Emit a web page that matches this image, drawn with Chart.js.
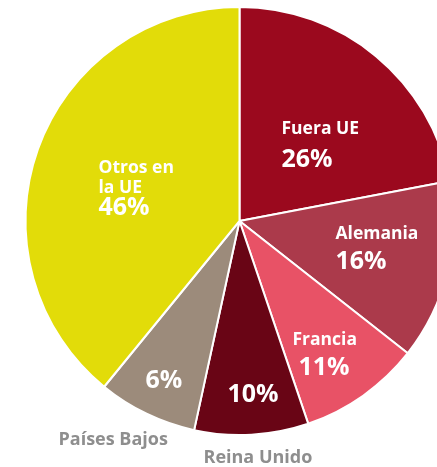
<!DOCTYPE html>
<html>
<head>
<meta charset="utf-8">
<script src="https://cdn.jsdelivr.net/npm/chart.js@4"></script>
<style>
  html, body { margin: 0; padding: 0; background: #fff; overflow: hidden; }
  #wrap { width: 437px; height: 467px; overflow: hidden; }
</style>
</head>
<body>
<div id="wrap"><canvas id="pieChart" width="479" height="467"></canvas></div>
<script>
// slices, clockwise from 12 o'clock
const categories = ['Fuera UE', 'Alemania', 'Francia', 'Reina Unido', 'Países Bajos', 'Otros en la UE'];
const shares = [22.0, 13.6, 9.2, 8.6, 7.5, 39.1];   // slice sizes
const shareLabels = ['26%', '16%', '11%', '10%', '6%', '46%'];  // printed figures
const sliceColors = ['#9b091e', '#ab3a4b', '#e85266', '#690515', '#9c8b7b', '#e2dc09'];

// where each text block sits, relative to the pie centre
const labelSpots = [
    { name: ['Fuera UE'], dx: 42, nameY: -87, pctY: -54 },
    { name: ['Alemania'], dx: 96, nameY: 18, pctY: 48 },
    { name: ['Francia'], dx: 53, nameY: 124, pctY: 154, pctDx: 6 },
    { name: [], dx: -12, pctY: 181, outside: { text: 'Reina Unido', dx: -36, y: 242 } },
    { name: [], dx: -94, pctY: 167, outside: { text: 'Países Bajos', dx: -181, y: 224 } },
    { name: ['Otros en', 'la UE'], dx: -141, nameY: -48, pctY: -6 }
];

const sliceText = {
    id: 'sliceText',
    afterDatasetsDraw(chart) {
        const ctx = chart.ctx;
        const arc = chart.getDatasetMeta(0).data[0];
        const cx = arc.x, cy = arc.y;
        ctx.save();
        ctx.textBaseline = 'alphabetic';
        ctx.textAlign = 'left';
        labelSpots.forEach((s, i) => {
            ctx.fillStyle = '#ffffff';
            ctx.font = '700 17.5px "Open Sans"';
            s.name.forEach((line, j) => {
                ctx.fillText(line, cx + s.dx, cy + s.nameY + j * 20);
            });
            ctx.font = '700 25px "Open Sans"';
            ctx.fillText(shareLabels[i], cx + s.dx + (s.pctDx || 0), cy + s.pctY);
            if (s.outside) {
                ctx.fillStyle = '#8e8e8e';
                ctx.font = '700 18px "Open Sans"';
                ctx.fillText(s.outside.text, cx + s.outside.dx, cy + s.outside.y);
            }
        });
        ctx.restore();
    }
};

new Chart(document.getElementById('pieChart'), {
    type: 'pie',
    data: {
        labels: categories,
        datasets: [{
            data: shares,
            backgroundColor: sliceColors,
            borderColor: '#ffffff',
            borderWidth: 2
        }]
    },
    options: {
        responsive: false,
        animation: false,
        layout: { padding: { left: 24.5, right: 24.5, top: 6, bottom: 31 } },
        plugins: {
            legend: { display: false },
            tooltip: { enabled: false }
        }
    },
    plugins: [sliceText]
});
</script>
</body>
</html>
